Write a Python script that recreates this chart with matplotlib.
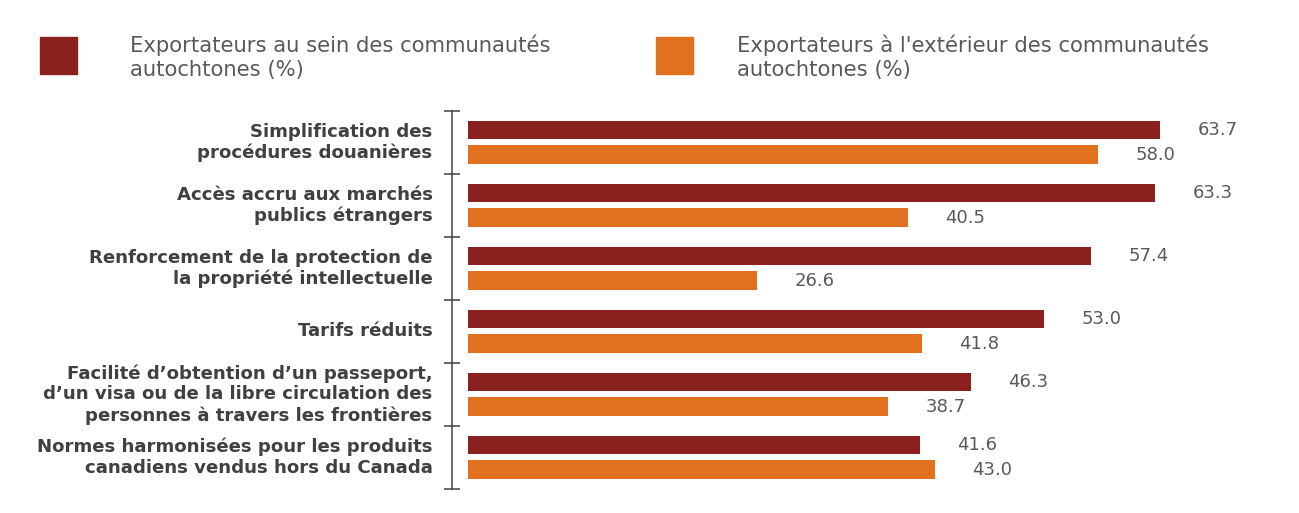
import matplotlib
matplotlib.use("Agg")
import matplotlib.pyplot as plt
from matplotlib.patches import Rectangle

categories = [
    "Simplification des\nprocédures douanières",
    "Accès accru aux marchés\npublics étrangers",
    "Renforcement de la protection de\nla propriété intellectuelle",
    "Tarifs réduits",
    "Facilité d’obtention d’un passeport,\nd’un visa ou de la libre circulation des\npersonnes à travers les frontières",
    "Normes harmonisées pour les produits\ncanadiens vendus hors du Canada",
]
inside = [63.7, 63.3, 57.4, 53.0, 46.3, 41.6]
outside = [58.0, 40.5, 26.6, 41.8, 38.7, 43.0]
series_labels = ["Exportateurs au sein des communautés\nautochtones (%)",
                 "Exportateurs à l'extérieur des communautés\nautochtones (%)"]

DARK = "#8B211E"
ORANGE = "#E2711F"
TXT = "#404040"
LBL = "#595959"

W, H = 1299, 513
fig = plt.figure(figsize=(W / 100, H / 100), dpi=100)
ax = fig.add_axes([452 / W, 1 - 489 / H, (W - 452) / W, (489 - 110.7) / H])

n = len(categories)
ypos = list(range(n))
bh = 0.295
off = 0.195
ax.barh([y - off for y in ypos], inside, height=bh, color=DARK, left=0)
ax.barh([y + off for y in ypos], outside, height=bh, color=ORANGE, left=0)

ax.set_xlim(-16 / 10.86, (W - 468) / 10.86)
ax.set_ylim(n - 0.5, -0.5)

for s in ["top", "right", "bottom"]:
    ax.spines[s].set_visible(False)
ax.spines["left"].set_color(TXT)
ax.spines["left"].set_linewidth(1.1)
ax.set_xticks([])
ax.set_yticks([i - 0.5 for i in range(n + 1)])
ax.set_yticklabels([])
ax.tick_params(axis="y", direction="inout", length=12, width=1.1, color=TXT)

valfont = dict(family=["DejaVu Sans"], fontweight="normal", fontsize=13, color=LBL)
for y, v in zip(ypos, inside):
    ax.annotate(f"{v:.1f}", (v, y - off), xytext=(27, 0), textcoords="offset points",
                ha="left", va="center", **valfont)
for y, v in zip(ypos, outside):
    ax.annotate(f"{v:.1f}", (v, y + off), xytext=(27, 0), textcoords="offset points",
                ha="left", va="center", **valfont)

for y, c in zip(ypos, categories):
    ax.annotate(c, (0, y), xycoords=("axes fraction", "data"), xytext=(-14, 0),
                textcoords="offset points", ha="right", va="center", multialignment="right",
                family=["DejaVu Sans"], fontweight="bold", fontsize=13.1, color=TXT,
                linespacing=1.2)

# Legend
leg = [(40, 37, DARK, 130, series_labels[0]), (656, 37, ORANGE, 737, series_labels[1])]
for x0, y0, col, tx, lab in leg:
    fig.patches.append(Rectangle((x0 / W, 1 - (y0 + 37) / H), 37 / W, 37 / H,
                                 transform=fig.transFigure, color=col))
    fig.text(tx / W, 1 - 34 / H, lab, ha="left", va="top", family=["DejaVu Sans"],
             fontweight="normal", fontsize=15.2, color=LBL, linespacing=1.3)

fig.savefig("out.png", dpi=100)
